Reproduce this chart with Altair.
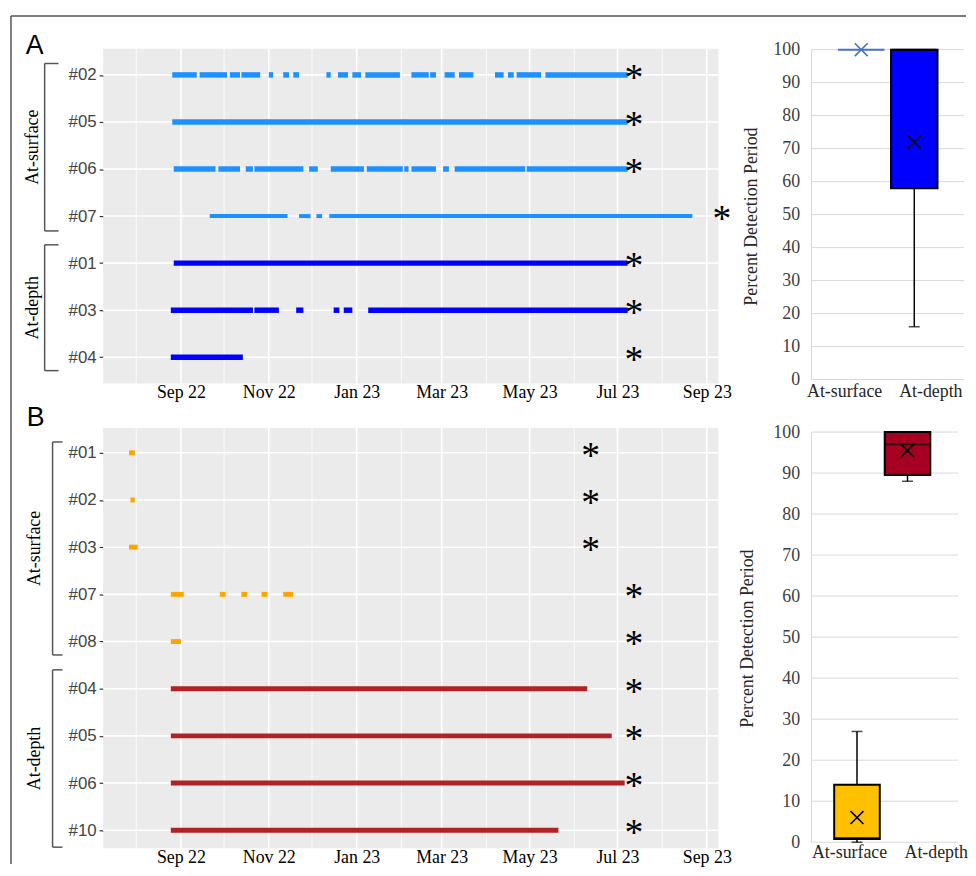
import altair as alt
import pandas as pd

SERIF = "Liberation Serif"
SANS = "Liberation Sans"

# ---------------- time axis ----------------
X_DOMAIN = ["2022-07-09", "2023-09-09"]
MAJOR_BREAKS = ["2022-09-01", "2022-11-01", "2023-01-01", "2023-03-01",
                "2023-05-01", "2023-07-01", "2023-09-01"]
MINOR_BREAKS = ["2022-08-01", "2022-10-01", "2022-12-01", "2023-02-01",
                "2023-04-01", "2023-06-01", "2023-08-01"]

# ---------------- panel A (detections) ----------------
A_ROWS = ["#02", "#05", "#06", "#07", "#01", "#03", "#04"]
A_DEPTH = ["#01", "#03", "#04"]
A_02 = [("2022-08-26", "2022-09-12"), ("2022-09-14", "2022-10-03"),
        ("2022-10-05", "2022-10-12"), ("2022-10-13", "2022-10-26"),
        ("2022-11-01", "2022-11-04"), ("2022-11-11", "2022-11-15"),
        ("2022-11-18", "2022-11-22"), ("2022-12-11", "2022-12-14"),
        ("2022-12-19", "2022-12-26"), ("2022-12-29", "2023-01-04"),
        ("2023-01-07", "2023-01-31"), ("2023-02-08", "2023-02-20"),
        ("2023-02-21", "2023-02-25"), ("2023-03-03", "2023-03-10"),
        ("2023-03-13", "2023-03-23"), ("2023-04-07", "2023-04-13"),
        ("2023-04-16", "2023-04-20"), ("2023-04-22", "2023-05-09"),
        ("2023-05-12", "2023-07-08")]
A_05 = [("2022-08-26", "2023-07-08")]
A_06 = [("2022-08-27", "2022-09-25"), ("2022-09-27", "2022-10-12"),
        ("2022-10-16", "2022-10-21"), ("2022-10-22", "2022-11-25"),
        ("2022-11-29", "2022-12-05"), ("2022-12-14", "2023-01-06"),
        ("2023-01-08", "2023-02-02"), ("2023-02-03", "2023-02-06"),
        ("2023-02-08", "2023-02-25"), ("2023-03-02", "2023-03-06"),
        ("2023-03-10", "2023-04-28"), ("2023-04-29", "2023-07-08")]
A_07 = [("2022-09-21", "2022-11-14"), ("2022-11-22", "2022-11-30"),
        ("2022-12-04", "2022-12-08"), ("2022-12-13", "2023-08-22")]
A_01 = [("2022-08-27", "2023-07-08")]
A_03 = [("2022-08-25", "2022-10-21"), ("2022-10-22", "2022-11-08"),
        ("2022-11-20", "2022-11-25"), ("2022-12-16", "2022-12-20"),
        ("2022-12-23", "2022-12-29"), ("2023-01-09", "2023-07-08")]
A_04 = [("2022-08-25", "2022-10-14")]
A_SEGMENTS = {"#02": A_02, "#05": A_05, "#06": A_06, "#07": A_07,
              "#01": A_01, "#03": A_03, "#04": A_04}
A_STAR_ROWS = ["#02", "#05", "#06", "#07", "#01", "#03", "#04"]
A_STAR_DATES = ["2023-07-09", "2023-07-09", "2023-07-09", "2023-09-08",
                "2023-07-09", "2023-07-09", "2023-07-09"]

# ---------------- panel B (detections) ----------------
B_ROWS = ["#01", "#02", "#03", "#07", "#08", "#04", "#05", "#06", "#10"]
B_DEPTH = ["#04", "#05", "#06", "#10"]
B_01 = [("2022-07-27", "2022-07-31")]
B_02 = [("2022-07-28", "2022-07-31")]
B_03 = [("2022-07-27", "2022-08-02")]
B_07 = [("2022-08-25", "2022-09-03"), ("2022-09-28", "2022-10-02"),
        ("2022-10-13", "2022-10-17"), ("2022-10-27", "2022-10-31"),
        ("2022-11-11", "2022-11-18")]
B_08 = [("2022-08-25", "2022-09-01")]
B_04 = [("2022-08-25", "2023-06-10")]
B_05 = [("2022-08-25", "2023-06-27")]
B_06 = [("2022-08-25", "2023-07-06")]
B_10 = [("2022-08-25", "2023-05-21")]
B_SEGMENTS = {"#01": B_01, "#02": B_02, "#03": B_03, "#07": B_07, "#08": B_08,
              "#04": B_04, "#05": B_05, "#06": B_06, "#10": B_10}
B_STAR_ROWS = ["#01", "#02", "#03", "#07", "#08", "#04", "#05", "#06", "#10"]
B_STAR_DATES = ["2023-06-09", "2023-06-09", "2023-06-09", "2023-07-09",
                "2023-07-09", "2023-07-09", "2023-07-09", "2023-07-09",
                "2023-07-09"]

# ---------------- box plots ----------------
BOX_CATS = ["At-surface", "At-depth"]
A_MIN = [100, 16]
A_Q1 = [100, 58]
A_MED = [100, 100]
A_Q3 = [100, 100]
A_MAX = [100, 100]
A_MEAN = [100, 72]
B_MIN = [0, 88]
B_Q1 = [0.8, 89.5]
B_MED = [1, 97]
B_Q3 = [14, 100]
B_MAX = [27, 100]
B_MEAN = [6, 95.5]
PCT_TICKS = [0, 10, 20, 30, 40, 50, 60, 70, 80, 90, 100]

# ---------------- geometry ----------------
W_G = 621
A_H = 338
B_H = 424
SP_H = 94
SP_V = 45


def dt(s):
    y, m, d = (int(v) for v in s.split("-"))
    return alt.DateTime(year=y, month=m, date=d)


def one():
    return pd.DataFrame({"k": [0]})


def gantt(rows, depth_rows, segments, star_rows, star_dates, palette,
          width_test, w_true, w_false, pad, align, H, ann):
    recs = []
    for r in rows:
        for s, e in segments[r]:
            recs.append({"id": r, "start": s, "end": e,
                         "kind": "depth" if r in depth_rows else "surface"})
    seg = pd.DataFrame(recs)
    seg["start"] = pd.to_datetime(seg["start"])
    seg["end"] = pd.to_datetime(seg["end"])

    xscale = alt.Scale(domain=[dt(X_DOMAIN[0]), dt(X_DOMAIN[1])], nice=False)
    xaxis = alt.Axis(values=[dt(d) for d in MAJOR_BREAKS], format="%b %y",
                     title=None, labelFont=SERIF, labelFontSize=18,
                     labelColor="#000000", ticks=False, domain=False,
                     grid=False, labelPadding=0, labelOverlap=False)
    yscale = alt.Scale(type="point", domain=rows, padding=pad, align=align)
    yaxis = alt.Axis(title=None, labelFont=SANS, labelFontSize=17,
                     labelColor="#444444", tickColor="#333333", tickSize=4,
                     tickWidth=1.2, domain=False, grid=False, labelPadding=3)

    def X():
        return alt.X("start:T", scale=xscale, axis=xaxis)

    def Y():
        return alt.Y("id:N", scale=yscale, axis=yaxis)

    minor = pd.DataFrame({"start": pd.to_datetime(MINOR_BREAKS)})
    major = pd.DataFrame({"start": pd.to_datetime(MAJOR_BREAKS)})
    rowdf = pd.DataFrame({"id": rows})
    stars = pd.DataFrame({"id": star_rows, "start": pd.to_datetime(star_dates)})

    layers = [
        alt.Chart(minor).mark_rule(color="white", strokeWidth=0.8).encode(
            x=X(), y=alt.value(0), y2=alt.value(H)),
        alt.Chart(major).mark_rule(color="white", strokeWidth=1.6).encode(
            x=X(), y=alt.value(0), y2=alt.value(H)),
        alt.Chart(rowdf).mark_rule(color="white", strokeWidth=1.6).encode(
            y=Y(), x=alt.value(0), x2=alt.value(W_G)),
        alt.Chart(seg).mark_rule(strokeCap="butt").encode(
            x=X(), x2=alt.X2("end"), y=Y(),
            color=alt.Color("kind:N", scale=alt.Scale(domain=["surface", "depth"],
                                                      range=palette), legend=None),
            strokeWidth=alt.condition(width_test, alt.value(w_true), alt.value(w_false))),
        alt.Chart(stars).mark_text(text="*", font=SERIF, fontSize=38,
                                   baseline="alphabetic", dx=5, dy=15,
                                   color="black").encode(x=X(), y=Y()),
        alt.Chart(pd.DataFrame({"t": [ann["letter"]]})).mark_text(
            font=SANS, fontSize=27, align="left", baseline="alphabetic",
            color="black").encode(x=alt.value(ann["lx"]), y=alt.value(ann["ly"]),
                                  text="t:N"),
    ]
    for (top, bot, label) in ann["groups"]:
        bx, bx2 = ann["bx"], ann["bx2"]
        layers += [
            alt.Chart(one()).mark_rule(color="#555555", strokeWidth=1.5).encode(
                x=alt.value(bx), y=alt.value(top), y2=alt.value(bot)),
            alt.Chart(one()).mark_rule(color="#555555", strokeWidth=1.5).encode(
                x=alt.value(bx), x2=alt.value(bx2), y=alt.value(top)),
            alt.Chart(one()).mark_rule(color="#555555", strokeWidth=1.5).encode(
                x=alt.value(bx), x2=alt.value(bx2), y=alt.value(bot)),
            alt.Chart(pd.DataFrame({"t": [label]})).mark_text(
                font=SERIF, fontSize=18, angle=270, align="center",
                baseline="middle", color="black").encode(
                x=alt.value(ann["gx"]), y=alt.value((top + bot) / 2), text="t:N"),
        ]
    if "frame" in ann:
        fx, fy, fx2, fy2 = ann["frame"]
        layers += [
            alt.Chart(one()).mark_rule(color="#555555", strokeWidth=1.5).encode(
                x=alt.value(fx), x2=alt.value(fx2), y=alt.value(fy)),
            alt.Chart(one()).mark_rule(color="#555555", strokeWidth=1.5).encode(
                x=alt.value(fx), y=alt.value(fy), y2=alt.value(fy2)),
        ]
    return alt.layer(*layers).properties(
        width=W_G, height=H,
        view=alt.ViewBackground(fill="#EBEBEB", stroke=None))


def boxplot(mn, q1, med, q3, mx, mean, fills, strokes, W, H, y100, y0,
            band, lab, label_y, title_pad):
    df = pd.DataFrame({"cat": BOX_CATS, "mn": mn, "q1": q1, "med": med,
                       "q3": q3, "mx": mx, "mean": mean})
    k = (y0 - y100) / 100.0
    dom = [-(H - y0) / k, 100 + y100 / k]
    yscale = alt.Scale(domain=dom, nice=False, zero=False)
    yaxis = alt.Axis(values=PCT_TICKS, title="Percent Detection Period",
                     titleFont=SERIF, titleFontSize=18, titleFontWeight="normal",
                     titleColor="#262626", titlePadding=title_pad,
                     labelFont=SERIF, labelFontSize=18, labelColor="#404040",
                     labelPadding=12, domain=False, ticks=False, grid=False)

    def Y(f):
        return alt.Y(f, type="quantitative", scale=yscale, axis=yaxis)

    xb = alt.X("cat:N", scale=alt.Scale(domain=BOX_CATS, paddingInner=band[0],
                                        paddingOuter=band[1], align=band[2]),
               axis=None)
    fill = alt.Fill("cat:N", scale=alt.Scale(domain=BOX_CATS, range=fills), legend=None)
    stroke = alt.Stroke("cat:N", scale=alt.Scale(domain=BOX_CATS, range=strokes),
                        legend=None)
    grid = pd.DataFrame({"v": PCT_TICKS})

    boxes = alt.layer(
        alt.Chart(grid).mark_rule(color="#D9D9D9", strokeWidth=1).encode(
            y=Y("v"), x=alt.value(0), x2=alt.value(W)),
        alt.Chart(one()).mark_rule(color="#D9D9D9", strokeWidth=1).encode(
            x=alt.value(0), y=alt.value(y100), y2=alt.value(y0)),
        alt.Chart(df).mark_rule(color="black", strokeWidth=1.5).encode(
            x=xb, y=Y("mn"), y2="q1"),
        alt.Chart(df).mark_rule(color="black", strokeWidth=1.5).encode(
            x=xb, y=Y("q3"), y2="mx"),
        alt.Chart(df).transform_filter("datum.mn < datum.q1").mark_tick(
            color="black", size=11, thickness=1.5).encode(x=xb, y=Y("mn")),
        alt.Chart(df).transform_filter("datum.mx > datum.q3").mark_tick(
            color="black", size=11, thickness=1.5).encode(x=xb, y=Y("mx")),
        alt.Chart(df).mark_bar(strokeWidth=2).encode(
            x=xb, y=Y("q1"), y2="q3", fill=fill, stroke=stroke),
        alt.Chart(df).transform_filter("datum.q3 > datum.q1").mark_tick(
            color="black", size=46, thickness=2).encode(x=xb, y=Y("med")),
        alt.Chart(df).mark_point(shape="M-1,-1L1,1M1,-1L-1,1", size=169,
                                 filled=False, strokeWidth=1.6, opacity=1).encode(
            x=xb, y=Y("mean"), stroke=stroke),
    )
    labels = alt.Chart(pd.DataFrame({"cat": BOX_CATS})).mark_text(
        font=SERIF, fontSize=18, color="#262626", baseline="middle").encode(
        x=alt.X("cat:N", scale=alt.Scale(type="point", domain=BOX_CATS,
                                         padding=lab[0], align=lab[1]), axis=None),
        y=alt.value(label_y), text="cat:N")
    return alt.layer(boxes, labels).resolve_scale(x="independent").properties(
        width=W, height=H)


gA = gantt(A_ROWS, A_DEPTH, A_SEGMENTS, A_STAR_ROWS, A_STAR_DATES,
           ["#1E90FF", "#0000FF"], "datum.id == '#07'", 4, 5.5, 0.558, 0.5, A_H,
           {"letter": "A", "lx": -78, "ly": 5, "bx": -59, "bx2": -45, "gx": -71,
            "groups": [(15, 184, "At-surface"), (198, 325, "At-depth")],
            "frame": (-93, -33, 871, 823)})
gB = gantt(B_ROWS, B_DEPTH, B_SEGMENTS, B_STAR_ROWS, B_STAR_DATES,
           ["#FFA500", "#B22222"], "datum.kind == 'surface'", 5, 5, 0.4515, 0.58, B_H,
           {"letter": "B", "lx": -77, "ly": -2, "bx": -51, "bx2": -41, "gx": -69,
            "groups": [(14, 229, "At-surface"), (244, 423, "At-depth")]})

bA = boxplot(A_MIN, A_Q1, A_MED, A_Q3, A_MAX, A_MEAN,
             ["#4472C4", "#0000FF"], ["#4472C4", "#000000"], 154, A_H, 1, 334,
             (0.124, 0.5, 0.5), (0.385, 0.5), 346.5, 12)
bB = boxplot(B_MIN, B_Q1, B_MED, B_Q3, B_MAX, B_MEAN,
             ["#FFC000", "#A50021"], ["#000000", "#000000"], 148, B_H, 4, 418,
             (0.098, 0.5, 0.45), (0.346, 0.635), 429, 17)

chart = alt.concat(gA, bA, gB, bB, columns=2,
                   spacing={"row": SP_V, "column": SP_H},
                   bounds="flush", align="each").resolve_scale(
    x="independent", y="independent", color="independent",
    fill="independent", stroke="independent", strokeWidth="independent"
).properties(
    padding={"left": 2, "top": 3, "right": 0, "bottom": -2},
    background="white").configure_view(stroke=None)

chart.save("out.html", embed_options={"renderer": "svg", "actions": False})
